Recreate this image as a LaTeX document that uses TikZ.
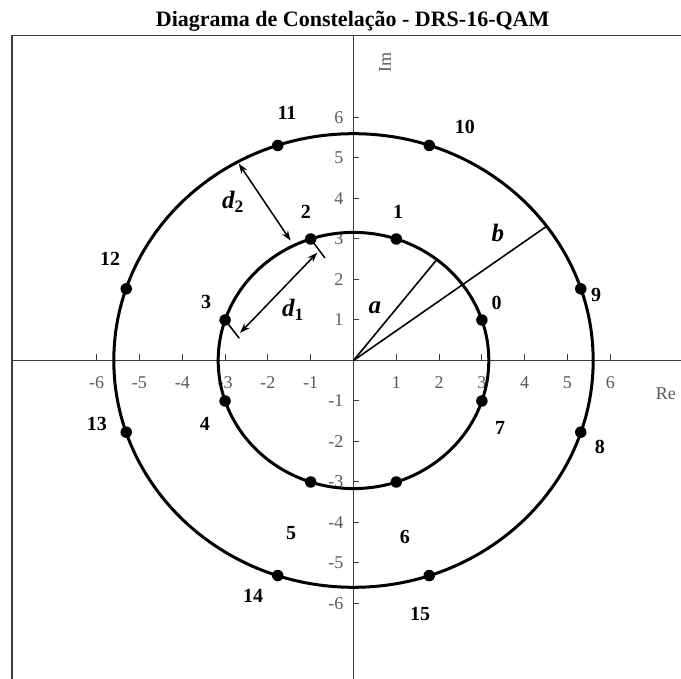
\documentclass[tikz,border=0pt]{standalone}
\usepackage{fontspec}
\setmainfont{Liberation Serif}
\usepackage{tikz}
\usetikzlibrary{arrows.meta}
\definecolor{axisgray}{RGB}{60,60,60}
\definecolor{tickgray}{RGB}{90,90,90}

\begin{document}
\begin{tikzpicture}[
  x=42.8pt, y=40.5pt,
  frame/.style    = {draw=axisgray, line width=1.6pt},
  axisline/.style = {draw=axisgray, line width=1.2pt},
  tickmark/.style = {draw=axisgray, line width=1pt},
  ticklabel/.style= {font=\fontsize{18}{18}\selectfont, text=tickgray, inner sep=0pt},
  ring/.style     = {draw=black, line width=3pt},
  dot/.style      = {circle, fill=black, minimum size=11.5pt, inner sep=0pt},
  ptlabel/.style  = {font=\fontsize{20}{20}\selectfont\bfseries, inner sep=0pt},
  radline/.style  = {draw=black, line width=1.6pt},
  dimarrow/.style = {{Stealth[length=10pt,width=7pt]}-{Stealth[length=10pt,width=7pt]},
                     line width=1.5pt},
  extline/.style  = {draw=black, line width=1.5pt},
  varlabel/.style = {font=\fontsize{25}{25}\selectfont\bfseries\itshape, inner sep=0pt},
]

%% --- Page and frame ---
\path[fill=white] (-353.5pt,-318.5pt) rectangle (327.5pt,360.5pt);
\useasboundingbox (-353.5pt,-318.5pt) rectangle (327.5pt,360.5pt);
\draw[frame] (-7.972,-7.864) |- (7.652,8.025);

\node[font=\fontsize{22}{22}\selectfont\bfseries, anchor=base, inner sep=0pt]
  (title) at (-0.02,8.235) {Diagrama de Constelação - DRS-16-QAM};

%% --- Axes ---
\coordinate (O) at (0,0);
\draw[axisline] (-7.972,0) -- (7.652,0);
\draw[axisline] (0,8.025) -- (0,-7.864);
\foreach \k in {-6,-5,-4,-3,-2,-1,1,2,3,4,5,6} {
  \draw[tickmark] (\k,0) -- ++(0,6pt);
  \draw[tickmark] (0,\k) -- ++(6pt,0);
  \node[ticklabel] (xl\k) at (\k,-22.5pt) {\k};
  \node[ticklabel, anchor=east] (yl\k) at (-10pt,\k) {\k};
}
\node[ticklabel] (re) at (7.301,-0.827) {Re};
\node[ticklabel, rotate=90] (im) at (0.736,7.370) {Im};

%% --- Rings ---
\draw[ring] (O) ellipse [x radius=135.3pt, y radius=128.1pt];
\draw[ring] (O) ellipse [x radius=239.7pt, y radius=226.8pt];

%% --- Radii a and b ---
\coordinate (aend) at (52:3.162);
\coordinate (bend) at (36.3:5.6);
\draw[radline] (O) -- (aend);
\draw[radline] (O) -- (bend);
\node[varlabel] (alab) at (0.502,1.296) {a};
\node[varlabel] (blab) at (3.376,3.148) {b};

%% --- Symbols ---
\foreach \n/\px/\py in {0/3/1, 1/1/3, 2/-1/3, 3/-3/1, 4/-3/-1, 5/-1/-3, 6/1/-3, 7/3/-1,
  8/5.31/-1.77, 9/5.31/1.77, 10/1.77/5.31, 11/-1.77/5.31,
  12/-5.31/1.77, 13/-5.31/-1.77, 14/-1.77/-5.31, 15/1.77/-5.31}
  \coordinate (p\n) at (\px,\py);

%% --- Distances d1 and d2 ---
\coordinate (e2) at (-0.666,2.531);
\coordinate (e3) at (-2.668,0.548);
\coordinate (d1a) at (-2.652,0.679);
\coordinate (d1b) at (-0.846,2.662);
\coordinate (d2a) at (-2.68,4.86);
\coordinate (d2b) at (-1.47,2.96);
\draw[extline] (p2) -- (e2);
\draw[extline] (p3) -- (e3);
\draw[dimarrow] (d1a) -- (d1b);
\draw[dimarrow] (d2a) -- (d2b);
\node[varlabel] (d1lab) at (-1.414,1.247) {d\textsubscript{\upshape 1}};
\node[varlabel] (d2lab) at (-2.815,3.914) {d\textsubscript{\upshape 2}};

\foreach \n in {0,...,15}
  \node[dot] (s\n) at (p\n) {};

%% --- Symbol labels ---
\foreach \n/\lx/\ly in {0/3.346/1.412, 1/1.040/3.667, 2/-1.110/3.667, 3/-3.446/1.457,
  4/-3.470/-1.568, 5/-1.460/-4.259, 6/1.203/-4.358, 7/3.423/-1.667,
  8/5.759/-2.136, 9/5.666/1.617, 10/2.605/5.765, 11/-1.554/6.111,
  12/-5.689/2.506, 13/-5.993/-1.568, 14/-2.348/-5.815, 15/1.554/-6.259}
  \node[ptlabel] (l\n) at (\lx,\ly) {\n};

\end{tikzpicture}
\end{document}
